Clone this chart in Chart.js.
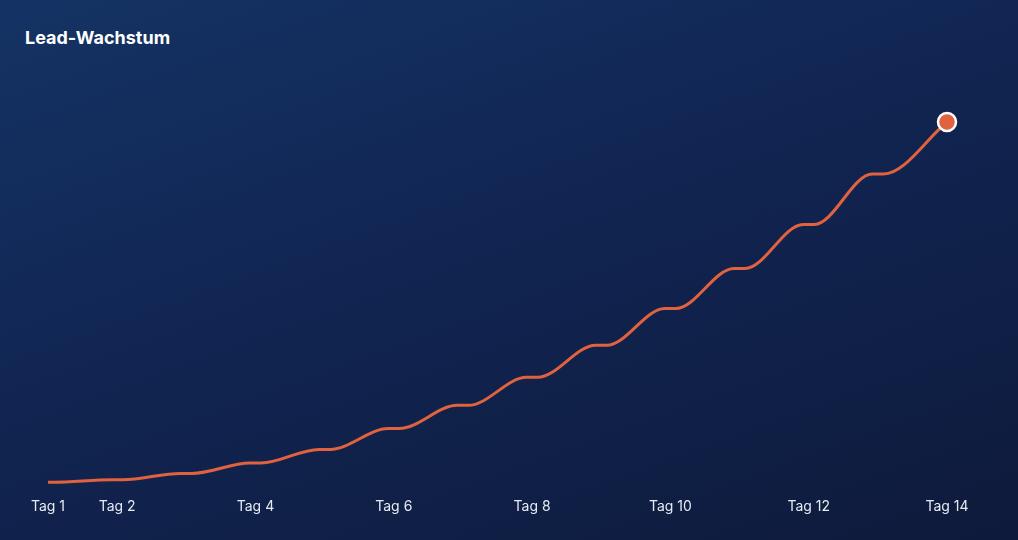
<!DOCTYPE html>
<html lang="de">
<head>
<meta charset="utf-8">
<title>Lead-Wachstum</title>
<script src="https://cdn.jsdelivr.net/npm/chart.js@4.4.1/dist/chart.umd.min.js"></script>
<style>
  html, body {
    margin: 0;
    padding: 0;
    width: 1018px;
    height: 540px;
    overflow: hidden;
  }
  body {
    background: linear-gradient(160deg, #143364 0%, #112552 45%, #0e1a3b 100%);
    font-family: "Inter", "Roboto", sans-serif;
  }
  .title {
    position: absolute;
    left: 25px;
    top: 27px;
    color: #ffffff;
    font-size: 18px;
    font-weight: 700;
  }
  #leadChart {
    position: absolute;
    left: 0;
    top: 0;
  }
</style>
</head>
<body>
<div class="title">Lead-Wachstum</div>
<canvas id="leadChart" width="1018" height="540"></canvas>
<script>
const dayPositions = [1, 1.08, 1.92, 2.08, 2.92, 3.08, 3.92, 4.08, 4.92, 5.08, 5.92, 6.08,
  6.92, 7.08, 7.92, 8.08, 8.92, 9.08, 9.92, 10.08, 10.92, 11.08, 11.92, 12.08, 12.92, 13.08, 14];
const leadValues = [10, 10, 13, 13, 21, 21, 34, 34, 51, 51, 77, 77,
  106, 106, 141, 141, 181, 181, 227, 227, 277, 277, 332, 332, 395, 395, 460];

// Beschriftete Tage auf der x-Achse
const tickDays = [1, 2, 4, 6, 8, 10, 12, 14];
const tickLabels = ["Tag 1", "Tag 2", "Tag 4", "Tag 6", "Tag 8", "Tag 10", "Tag 12", "Tag 14"];

const points = dayPositions.map((x, i) => ({ x: x, y: leadValues[i] }));
const lastIndex = points.length - 1;

const leadChart = new Chart(document.getElementById("leadChart"), {
  type: "line",
  data: {
    datasets: [
      {
        label: "Leads",
        data: points,
        borderColor: "#e0623f",
        borderWidth: 3,
        cubicInterpolationMode: "monotone",
        pointRadius: (ctx) => (ctx.dataIndex === lastIndex ? 9 : 0),
        pointBackgroundColor: "#e0623f",
        pointBorderColor: "#ffffff",
        pointBorderWidth: 2.5,
        clip: false,
        fill: false,
      },
    ],
  },
  options: {
    responsive: false,
    animation: false,
    layout: {
      padding: { left: 48, right: 71, top: 90, bottom: 25 },
    },
    plugins: {
      legend: { display: false },
      tooltip: { enabled: false },
    },
    scales: {
      x: {
        type: "linear",
        min: 1,
        max: 14,
        grid: { display: false },
        border: { display: false },
        afterBuildTicks: (scale) => {
          scale.ticks = tickDays.map((d) => ({ value: d }));
        },
        ticks: {
          autoSkip: false,
          maxRotation: 0,
          padding: 0,
          color: "#e6ebf3",
          font: { family: "Inter", size: 14 },
          callback: (value) => tickLabels[tickDays.indexOf(value)],
        },
      },
      y: {
        display: false,
        min: 0,
        max: 500,
      },
    },
  },
});
</script>
</body>
</html>
